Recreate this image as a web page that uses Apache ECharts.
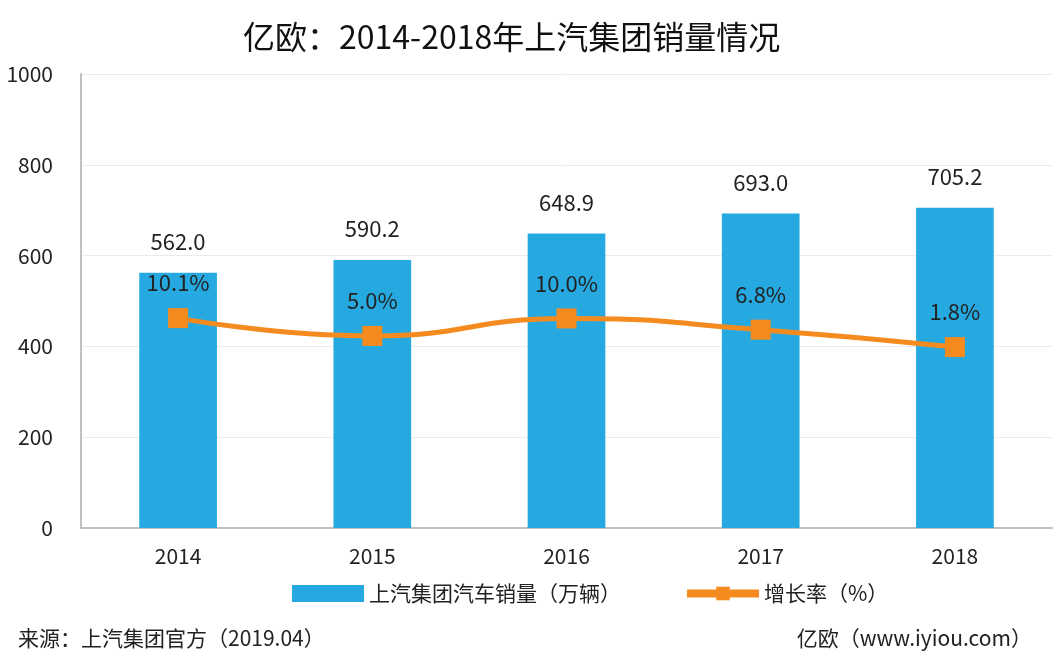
<!DOCTYPE html>
<html><head><meta charset="utf-8">
<script src="https://cdn.jsdelivr.net/npm/echarts@6/dist/echarts.min.js"></script>
<style>html,body{margin:0;padding:0;background:#fff;}#c{width:1056px;height:667px;}</style>
</head><body><div id="c"></div>
<script>
const categories = ['2014','2015','2016','2017','2018'];
const sales = [562.0, 590.2, 648.9, 693.0, 705.2];
const growth = [10.1, 5.0, 10.0, 6.8, 1.8];
const yTicks = [0, 200, 400, 600, 800, 1000];
const FONT = '"Noto Sans CJK SC", "Noto Sans", sans-serif';
const chart = echarts.init(document.getElementById('c'));
chart.setOption({
  backgroundColor: '#fff',
  textStyle: {fontFamily: FONT},
  title: {
    text: '亿欧：2014-2018年上汽集团销量情况',
    left: 238, top: 16,
    textStyle: {fontSize: 32, fontWeight: 'normal', color: '#111', fontFamily: FONT}
  },
  graphic: [
    {type: 'text', left: 18, top: 628, style: {text: '来源：上汽集团官方（2019.04）', fontSize: 21, fill: '#222', fontFamily: FONT}},
    {type: 'text', right: 24, top: 628, style: {text: '亿欧（www.iyiou.com）', fontSize: 21, fill: '#222', fontFamily: FONT}}
  ],
  legend: {
    top: 578, left: 287, itemGap: 62,
    textStyle: {fontSize: 21, color: '#222', fontFamily: FONT},
    data: [
      {name: '上汽集团汽车销量（万辆）', icon: 'rect', itemStyle: {color: '#26A9E0'}},
      {name: '增长率（%）', lineStyle: {width: 8, color: '#F58B1F'}}
    ],
    itemWidth: 72, itemHeight: 17
  },
  grid: {left: 81, right: 4, top: 74, bottom: 139},
  xAxis: {
    type: 'category', data: categories,
    axisLine: {lineStyle: {color: '#bfbfbf', width: 2}},
    axisTick: {show: false},
    axisLabel: {fontSize: 21, color: '#222', margin: 18, fontFamily: FONT}
  },
  yAxis: [
    {type: 'value', min: yTicks[0], max: yTicks[yTicks.length-1], interval: 200,
     axisLine: {show: true, lineStyle: {color: '#bfbfbf', width: 2}},
     axisTick: {show: false},
     axisLabel: {fontSize: 21, color: '#222', margin: 28, fontFamily: FONT, formatter: v => String(v)},
     splitLine: {lineStyle: {color: '#ececec'}}},
    {type: 'value', min: -50, max: 80, show: false, splitLine: {show: false}}
  ],
  series: [
    {name: '上汽集团汽车销量（万辆）', type: 'bar', data: sales, barWidth: '40%',
     itemStyle: {color: '#26A9E0'},
     label: {show: true, position: 'top', distance: 20, fontSize: 22, color: '#222',
       formatter: p => p.value.toFixed(1), fontFamily: FONT}},
    {name: '增长率（%）', type: 'line', yAxisIndex: 1, data: growth, smooth: true,
     symbol: 'rect', symbolSize: 20,
     lineStyle: {color: '#F58B1F', width: 5},
     itemStyle: {color: '#F58B1F'},
     label: {show: true, position: 'top', distance: 14, fontSize: 22, color: '#222',
       formatter: p => p.value.toFixed(1) + '%', fontFamily: FONT}}
  ]
});
</script></body></html>
